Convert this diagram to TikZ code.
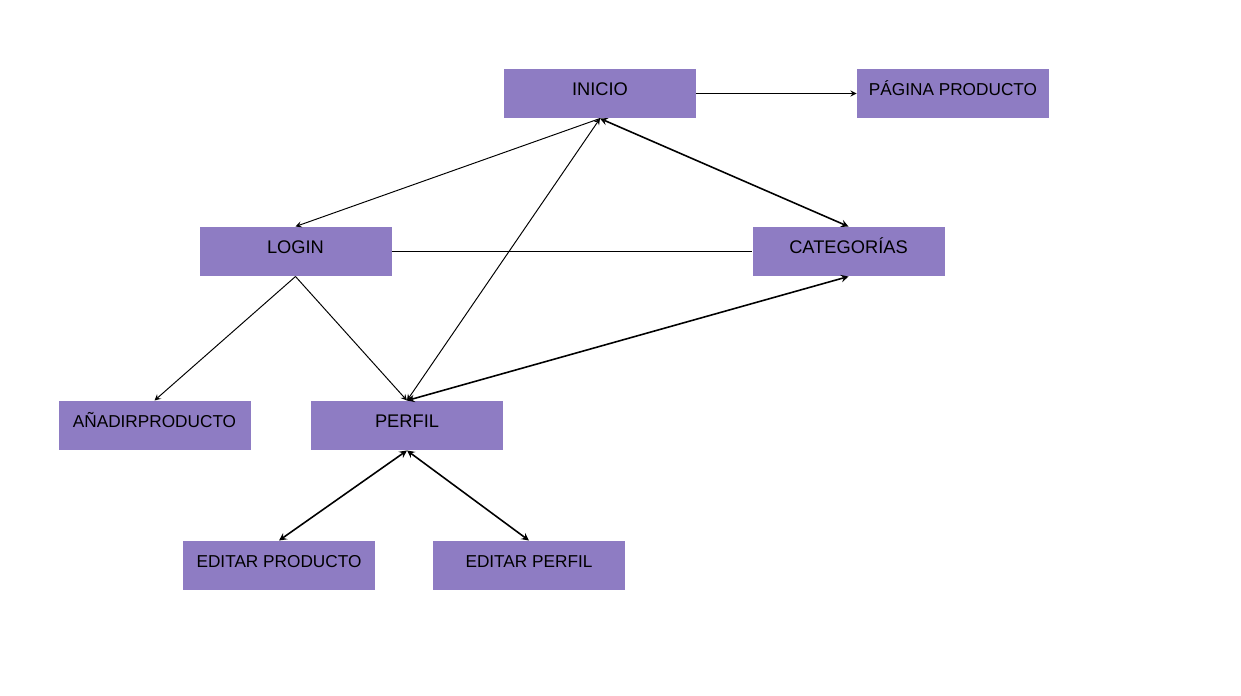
\documentclass[tikz,border=0pt]{standalone}
\usepackage{fontspec}
\setmainfont{Liberation Sans}
\usepackage{tikz}
\usetikzlibrary{ % tikz packages
    positioning,
    arrows.meta
}
\definecolor{boxpurple}{HTML}{8E7CC3}
\tikzset{pagebox/.style={
    fill=boxpurple,
    minimum width=3.84cm,
    minimum height=0.98cm,
    inner sep=0pt,
    text height=8pt,
    text depth=6pt,
    font=\fontsize{10.4}{12}\selectfont
}}
\tikzset{smallbox/.style={
    pagebox,
    font=\fontsize{9.8}{12}\selectfont
}}
\tikzset{>=stealth}

\begin{document}
\begin{tikzpicture}[on grid,auto,line width=0.55pt]
            \useasboundingbox (0,0) rectangle (24.82,-13.9);
            \node[pagebox] (inicio) at (12,-1.87) {INICIO};
            \node[smallbox] (pagina) [right=7.06cm of inicio] {PÁGINA PRODUCTO};
            \node[pagebox] (login) [below left=3.16cm and 6.09cm of inicio] {LOGIN};
            \node[pagebox] (categorias) [right=11.06cm of login] {CATEGORÍAS};
            \node[smallbox] (anadir) [below left=3.48cm and 2.82cm of login] {AÑADIRPRODUCTO};
            \node[pagebox] (perfil) [right=5.05cm of anadir] {PERFIL};
            \node[smallbox] (editprod) [below left=2.8cm and 2.56cm of perfil] {EDITAR PRODUCTO};
            \node[smallbox] (editperf) [right=5cm of editprod] {EDITAR PERFIL};

            \path[->]
                (inicio.east)
                    edge (pagina.west)
                (inicio.south)
                    edge (login.north)
                (login.south)
                    edge (anadir.north)
                    edge (perfil.north);
            \path[<->]
                (perfil.north)
                    edge (inicio.south);
            \path[<->,line width=0.9pt]
                (inicio.south)
                    edge (categorias.north)
                (perfil.north)
                    edge (categorias.south)
                (perfil.south)
                    edge (editprod.north)
                    edge (editperf.north);
            \path
                (login.east)
                    edge (categorias.west);
        \end{tikzpicture}
\end{document}
